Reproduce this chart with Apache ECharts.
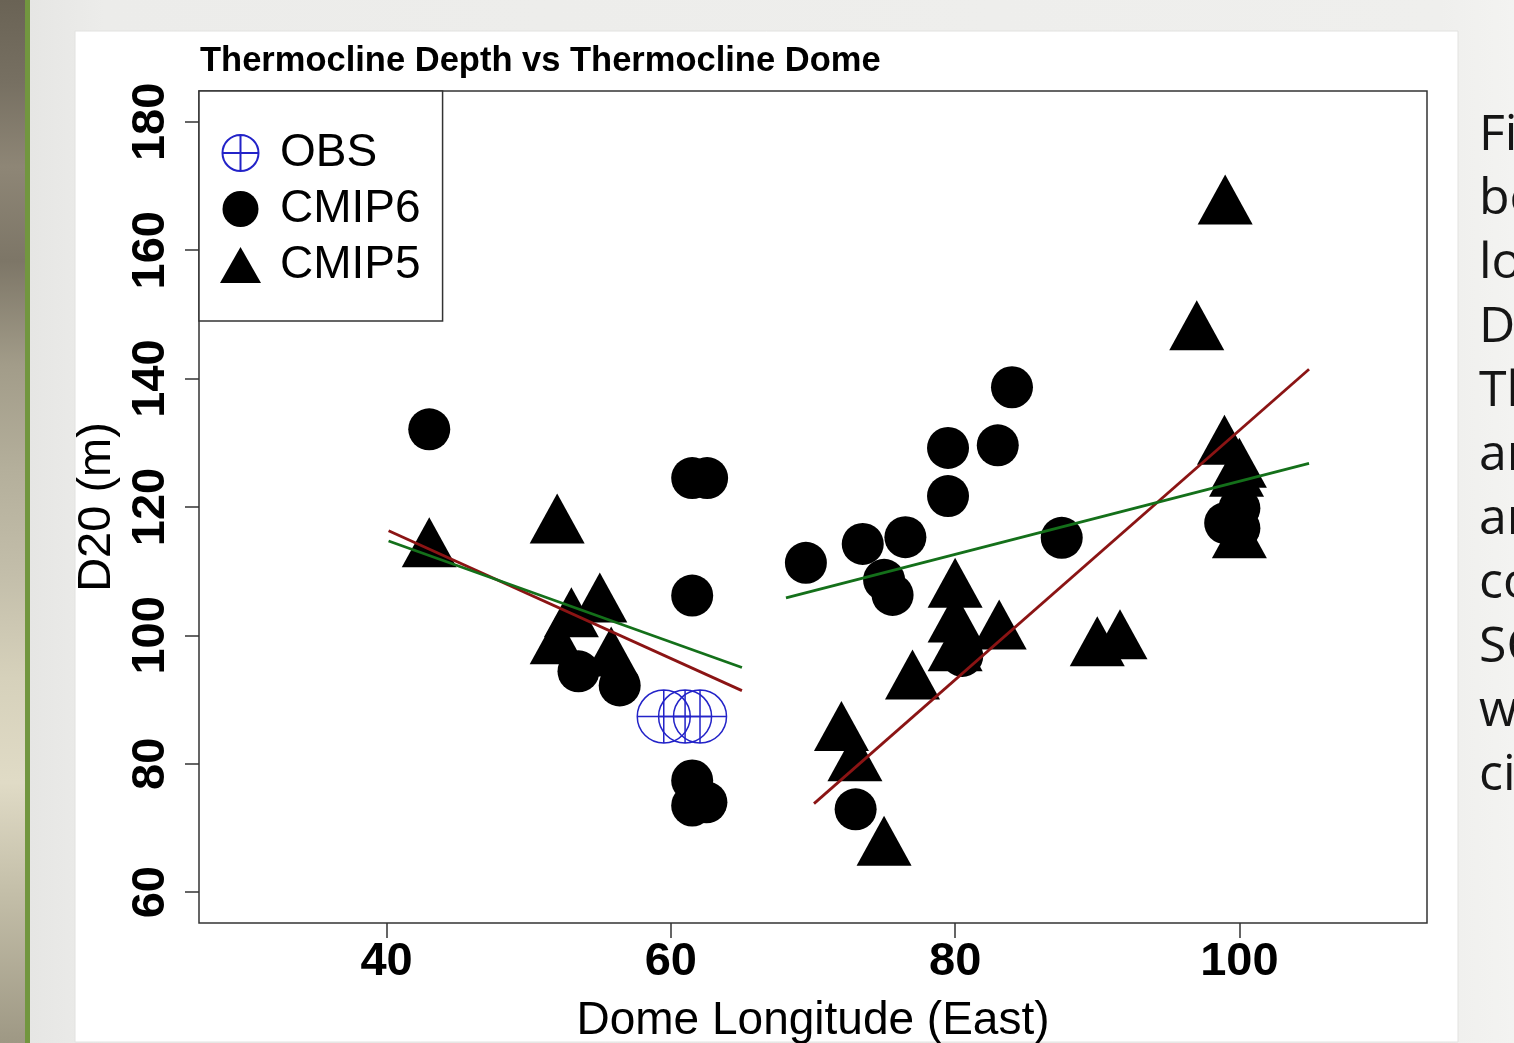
<!DOCTYPE html>
<html>
<head>
<meta charset="utf-8">
<script src="https://cdn.jsdelivr.net/npm/echarts@6/dist/echarts.min.js"></script>
<style>
html,body{margin:0;padding:0;background:#ededeb;overflow:hidden;}
#chart{width:1514px;height:1043px;}
</style>
</head>
<body>
<div id="chart"></div>
<script>
// ---- data ----
const chartTitle = 'Thermocline Depth vs Thermocline Dome';
const xTicks = [40, 60, 80, 100];
const yTicks = [60, 80, 100, 120, 140, 160, 180];
const xName = 'Dome Longitude (East)';
const yName = 'D20 (m)';
const legendNames = ['OBS', 'CMIP6', 'CMIP5'];

const obsPoints = [[59.5, 87.35], [61.0, 87.35], [62.05, 87.35]];

const cmip6Points = [
  [43.0, 132.1],
  [61.5, 124.5], [62.55, 124.5],
  [61.5, 106.2],
  [53.5, 94.4], [56.4, 92.2],
  [61.5, 77.4], [61.5, 73.5], [62.5, 74.0],
  [69.5, 111.3], [73.5, 114.25], [76.5, 115.3], [75.0, 108.65], [75.6, 106.3],
  [79.5, 129.2], [79.5, 121.7], [83.0, 129.6], [84.0, 138.65], [87.5, 115.2],
  [73.0, 72.9], [80.5, 96.8],
  [99.0, 117.5], [100.0, 119.8], [100.0, 116.7]
];

const cmip5Points = [
  [43.0, 113.2], [52.0, 116.9], [55.0, 104.6], [53.0, 102.3], [52.0, 98.1], [55.8, 96.2],
  [80.0, 106.9], [80.0, 101.5], [80.0, 97.0], [83.1, 100.4], [77.0, 92.6],
  [72.0, 84.6], [72.95, 79.9], [75.0, 66.7],
  [90.0, 97.8], [91.6, 98.9],
  [99.0, 166.6], [97.0, 147.0], [98.95, 129.2], [100.0, 125.6], [99.8, 124.2], [100.0, 114.6]
];

const redFitWest = [[40.14, 116.3], [65.0, 91.4]];
const greenFitWest = [[40.14, 114.7], [65.0, 95.0]];
const redFitEast = [[70.07, 73.8], [104.9, 141.45]];
const greenFitEast = [[68.1, 105.85], [104.9, 126.8]];

const captionLines = ['Fi', 'bo', 'lo', 'D', 'Th', 'ar', 'ar', 'co', 'SC', 'w', 'ci'];

// ---- chart ----
const FONT = '"Liberation Sans", Arial, Helvetica, sans-serif';
const chart = echarts.init(document.getElementById('chart'), null, {renderer: 'canvas', width: 1514, height: 1043});

const obsIcon = 'path://M0,17 A17,17 0 1 1 34,17 A17,17 0 1 1 0,17 Z M0,17 L34,17 M17,0 L17,34';

const fitLine = (name, data, color) => ({
  name: name, type: 'line', data: data, showSymbol: false, symbol: 'none',
  lineStyle: {color: color, width: 2.8}, z: 5, silent: true
});

chart.setOption({
  animation: false,
  backgroundColor: 'transparent',
  graphic: [
    {type: 'rect', shape: {x: 0, y: 0, width: 26, height: 1043}, z: -10, silent: true,
      style: {fill: new echarts.graphic.LinearGradient(0, 0, 0, 1, [
        {offset: 0, color: '#6a6355'}, {offset: 0.08, color: '#777062'},
        {offset: 0.16, color: '#8e8676'}, {offset: 0.25, color: '#7d7667'},
        {offset: 0.35, color: '#a29c89'}, {offset: 0.45, color: '#b4af9b'},
        {offset: 0.55, color: '#c3beaa'}, {offset: 0.65, color: '#d6d1bb'},
        {offset: 0.75, color: '#e0dbc6'}, {offset: 0.85, color: '#c5c0aa'},
        {offset: 1, color: '#9e9884'}])}},
    {type: 'rect', shape: {x: 25, y: 0, width: 5, height: 1043}, z: -9, silent: true, style: {fill: '#72963f'}},
    {type: 'rect', shape: {x: 30, y: 0, width: 1484, height: 1043}, z: -10, silent: true,
      style: {fill: new echarts.graphic.LinearGradient(0, 0, 1, 0, [
        {offset: 0, color: '#e6e6e4'}, {offset: 0.05, color: '#ececea'},
        {offset: 0.95, color: '#efefed'}, {offset: 1, color: '#f3f3f1'}])}},
    {type: 'rect', shape: {x: 75, y: 31, width: 1383, height: 1011}, z: -8, silent: true,
      style: {fill: '#ffffff', stroke: '#e2e2e0', lineWidth: 1}},
    {type: 'text', x: 1479, y: 104, z: 10, silent: true,
      style: {text: captionLines.join('\n'), font: '50px "Open Sans", "Noto Sans", sans-serif',
        fill: '#151515', lineHeight: 64}}
  ],
  title: {
    text: chartTitle, left: 200, top: 44, padding: 0,
    textStyle: {fontFamily: FONT, fontWeight: 'bold', fontSize: 34.5, color: '#000'}
  },
  legend: {
    data: legendNames,
    orient: 'vertical', left: 199, top: 91,
    padding: [37, 22, 31, 21],
    itemWidth: 41, itemHeight: 36, itemGap: 6,
    borderColor: '#333', borderWidth: 1.5, backgroundColor: '#fff',
    selectedMode: false,
    textStyle: {fontFamily: FONT, fontSize: 46, color: '#000', lineHeight: 50, padding: [0, 0, 0, 14]}
  },
  grid: {
    left: 199, top: 91, width: 1228, height: 832,
    show: true, borderColor: '#333', borderWidth: 1.5, backgroundColor: 'transparent',
    containLabel: false, outerBoundsMode: 'none'
  },
  xAxis: {
    type: 'value', min: 26.8, max: 113.2,
    name: xName, nameLocation: 'middle', nameGap: 75,
    nameTextStyle: {fontFamily: FONT, fontSize: 46, color: '#000'},
    axisLine: {show: false},
    splitLine: {show: false},
    axisTick: {show: true, inside: false, length: 15, customValues: xTicks, lineStyle: {color: '#333', width: 1.5}},
    axisLabel: {customValues: xTicks, margin: 16, fontFamily: FONT, fontWeight: 'bold', fontSize: 47, color: '#000'}
  },
  yAxis: {
    type: 'value', min: 55.2, max: 184.8,
    name: yName, nameLocation: 'middle', nameGap: 69, nameRotate: 90,
    nameTextStyle: {fontFamily: FONT, fontSize: 47, color: '#000'},
    axisLine: {show: false},
    splitLine: {show: false},
    axisTick: {show: true, inside: false, length: 14, customValues: yTicks, lineStyle: {color: '#333', width: 1.5}},
    axisLabel: {customValues: yTicks, rotate: 90, margin: 24, fontFamily: FONT, fontWeight: 'bold', fontSize: 47, color: '#000'}
  },
  series: [
    {name: 'CMIP6', type: 'scatter', data: cmip6Points, symbol: 'circle', symbolSize: 42,
      itemStyle: {color: '#000', opacity: 1}, z: 2},
    {name: 'CMIP5', type: 'scatter', data: cmip5Points, symbol: 'triangle', symbolSize: [55, 50],
      symbolOffset: [0, -8.3], itemStyle: {color: '#000', opacity: 1}, z: 2},
    {name: 'OBS', type: 'scatter', data: obsPoints, symbol: obsIcon, symbolSize: 53, symbolKeepAspect: true,
      itemStyle: {color: 'none', borderColor: '#2323c8', borderWidth: 1.5, opacity: 1}, z: 3},
    fitLine('fit-red-west', redFitWest, '#8b1414'),
    fitLine('fit-green-west', greenFitWest, '#14701a'),
    fitLine('fit-red-east', redFitEast, '#8b1414'),
    fitLine('fit-green-east', greenFitEast, '#14701a')
  ]
});
</script>
</body>
</html>
